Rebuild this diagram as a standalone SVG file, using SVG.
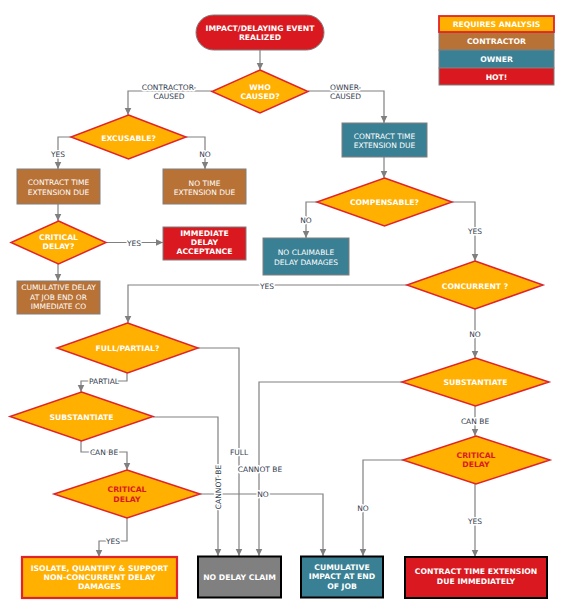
<svg xmlns="http://www.w3.org/2000/svg" width="570" height="609" viewBox="0 0 570 609">
<defs>
<marker id="arr" markerUnits="userSpaceOnUse" markerWidth="8" markerHeight="8" refX="7.5" refY="4" orient="auto">
<path d="M0,0.5 L7.5,4 L0,7.5 z" fill="#7f7f7f"/>
</marker>
<style>
.c{fill:none;stroke:#808080;stroke-width:1.2;marker-end:url(#arr)}
.dia{fill:#ffb000;stroke:#e0242a;stroke-width:1.5}
.or{fill:#ffb000;stroke:#e0242a;stroke-width:1.8}
.br{fill:#b87236;stroke:#7f7f7f;stroke-width:1}
.te{fill:#3a8094;stroke:#7f7f7f;stroke-width:1}
.rd{fill:#d9191f;stroke:#7f7f7f;stroke-width:1}
.blk{stroke:#000;stroke-width:2}
text{font-family:"DejaVu Sans",Verdana,sans-serif;text-anchor:middle}
.b{font-size:7.7px;font-weight:bold;fill:#fff}
.n{font-size:7.5px;fill:#fff}
.rt{font-size:7.7px;font-weight:bold;fill:#d9191f}
.l{font-size:7.5px;fill:#34404f;stroke:#fff;stroke-width:3;paint-order:stroke;stroke-linejoin:round}
</style>
</defs>
<rect width="570" height="609" fill="#fff"/>

<g id="connectors">
<path class="c" d="M260,50 V70"/>
<path class="c" d="M212,91 H128 V115"/>
<path class="c" d="M308,91 H384 V123"/>
<path class="c" d="M71,137 H58 V169"/>
<path class="c" d="M186,137 H205 V169"/>
<path class="c" d="M58,204 V221"/>
<path class="c" d="M106,242.5 H163"/>
<path class="c" d="M58,264 V281"/>
<path class="c" d="M384,157 V178"/>
<path class="c" d="M317,202 H306 V238"/>
<path class="c" d="M452,202 H475 V261"/>
<path class="c" d="M407,285 H128 V323"/>
<path class="c" d="M475,309 V358"/>
<path class="c" d="M198,348 H239 V556"/>
<path class="c" d="M127,373 V381 H81 V392"/>
<path class="c" d="M153,417 H218 V556"/>
<path class="c" d="M81,441 V452 H127 V470"/>
<path class="c" d="M200,494 H323 V556"/>
<path class="c" d="M127,518 V541 H99 V557"/>
<path class="c" d="M402,382 H259 V556"/>
<path class="c" d="M475,406 V436"/>
<path class="c" d="M403,460 H363 V556"/>
<path class="c" d="M475,484 V557"/>
<text class="l" x="169" y="90">CONTRACTOR-</text>
<text class="l" x="169" y="99">CAUSED</text>
<text class="l" x="330" y="90" style="text-anchor:start">OWNER-</text>
<text class="l" x="330" y="99" style="text-anchor:start">CAUSED</text>
<text class="l" x="58" y="157">YES</text>
<text class="l" x="205" y="157">NO</text>
<text class="l" x="134" y="245.5">YES</text>
<text class="l" x="306" y="222.5">NO</text>
<text class="l" x="475" y="234">YES</text>
<text class="l" x="267" y="288.5">YES</text>
<text class="l" x="475" y="337">NO</text>
<text class="l" x="104" y="383.5">PARTIAL</text>
<text class="l" x="239" y="455">FULL</text>
<text class="l" x="260" y="472">CANNOT BE</text>
<text class="l" x="104" y="455">CAN BE</text>
<text class="l" transform="translate(220.7,487) rotate(-90)" x="0" y="0">CANNOT BE</text>
<text class="l" x="263" y="497">NO</text>
<text class="l" x="113" y="544">YES</text>
<text class="l" x="475" y="424">CAN BE</text>
<text class="l" x="363" y="511">NO</text>
<text class="l" x="475" y="524">YES</text>
</g>

<g id="legend">
<rect class="br" x="439" y="32" width="115" height="18"/>
<rect class="te" x="439" y="50" width="115" height="18"/>
<rect class="rd" x="439" y="68" width="115" height="17"/>
<rect class="or" x="439" y="16" width="115" height="16"/>
<text class="b" x="496.5" y="27">REQUIRES ANALYSIS</text>
<text class="b" x="496.5" y="44">CONTRACTOR</text>
<text class="b" x="496.5" y="62">OWNER</text>
<text class="b" x="496.5" y="80">HOT!</text>
</g>

<g id="start">
<rect class="rd" x="196" y="15" width="128" height="35" rx="17.5"/>
<text class="b" x="260" y="31">IMPACT/DELAYING EVENT</text>
<text class="b" x="260" y="39.5">REALIZED</text>
</g>

<g id="who-caused">
<path class="dia" d="M260,70 L308,91.5 L260,113 L212,91.5 Z"/>
<text class="b" x="260" y="90">WHO</text>
<text class="b" x="260" y="99">CAUSED?</text>
</g>

<g id="excusable">
<path class="dia" d="M128.5,115 L186,137 L128.5,159 L71,137 Z"/>
<text class="b" x="128.5" y="141">EXCUSABLE?</text>
</g>

<g id="contractor-time-ext">
<rect class="br" x="17" y="169" width="83" height="35"/>
<text class="n" x="58.5" y="185">CONTRACT TIME</text>
<text class="n" x="58.5" y="194.5">EXTENSION DUE</text>
</g>

<g id="no-time-ext">
<rect class="br" x="163" y="169" width="83" height="35"/>
<text class="n" x="204.5" y="186">NO TIME</text>
<text class="n" x="204.5" y="195">EXTENSION DUE</text>
</g>

<g id="critical-delay-q">
<path class="dia" d="M58.5,221 L106,242.5 L58.5,264 L11,242.5 Z"/>
<text class="b" x="58.5" y="240">CRITICAL</text>
<text class="b" x="58.5" y="249.3">DELAY?</text>
</g>

<g id="immediate-acceptance">
<rect class="rd" x="163" y="227" width="83" height="33"/>
<text class="b" x="204.5" y="236">IMMEDIATE</text>
<text class="b" x="204.5" y="245">DELAY</text>
<text class="b" x="204.5" y="254">ACCEPTANCE</text>
</g>

<g id="cumulative-delay">
<rect class="br" x="17" y="281" width="83" height="33"/>
<text class="n" x="58.5" y="290">CUMULATIVE DELAY</text>
<text class="n" x="58.5" y="300">AT JOB END OR</text>
<text class="n" x="58.5" y="309">IMMEDIATE CO</text>
</g>

<g id="owner-time-ext">
<rect class="te" x="342" y="123" width="85" height="34"/>
<text class="n" x="384.5" y="138.5">CONTRACT TIME</text>
<text class="n" x="384.5" y="147.8">EXTENSION DUE</text>
</g>

<g id="compensable">
<path class="dia" d="M384.5,178 L452,202 L384.5,226 L317,202 Z"/>
<text class="b" x="384.5" y="205">COMPENSABLE?</text>
</g>

<g id="no-claimable">
<rect class="te" x="263" y="238" width="86" height="37"/>
<text class="n" x="306" y="254.7">NO CLAIMABLE</text>
<text class="n" x="306" y="265">DELAY DAMAGES</text>
</g>

<g id="concurrent">
<path class="dia" d="M475,261 L543,285 L475,309 L407,285 Z"/>
<text class="b" x="475" y="289">CONCURRENT ?</text>
</g>

<g id="full-partial">
<path class="dia" d="M127.5,323 L198,348 L127.5,373 L57,348 Z"/>
<text class="b" x="127.5" y="351">FULL/PARTIAL?</text>
</g>

<g id="substantiate-left">
<path class="dia" d="M81.5,392 L153,416.5 L81.5,441 L10,416.5 Z"/>
<text class="b" x="81.5" y="419.5">SUBSTANTIATE</text>
</g>

<g id="critical-delay-left">
<path class="dia" d="M127,470 L200,494 L127,518 L54,494 Z"/>
<text class="rt" x="127" y="492.3">CRITICAL</text>
<text class="rt" x="127" y="501.7">DELAY</text>
</g>

<g id="substantiate-right">
<path class="dia" d="M475.5,358 L549,382 L475.5,406 L402,382 Z"/>
<text class="b" x="475.5" y="385">SUBSTANTIATE</text>
</g>

<g id="critical-delay-right">
<path class="dia" d="M476,436 L550,460 L476,484 L403,460 Z"/>
<text class="rt" x="476" y="457.5">CRITICAL</text>
<text class="rt" x="476" y="467.3">DELAY</text>
</g>

<g id="isolate">
<rect class="or" x="22" y="557" width="155" height="41" style="stroke-width:2.2"/>
<text class="b" x="99.5" y="570.7">ISOLATE, QUANTIFY &amp; SUPPORT</text>
<text class="b" x="99.5" y="579.5">NON-CONCURRENT DELAY</text>
<text class="b" x="99.5" y="589.3">DAMAGES</text>
</g>

<g id="no-delay-claim">
<rect class="blk" fill="#808080" x="198" y="556.5" width="83" height="41"/>
<text class="b" x="239.5" y="580">NO DELAY CLAIM</text>
</g>

<g id="cumulative-impact">
<rect class="blk" fill="#3a8094" x="301" y="556.5" width="82" height="41"/>
<text class="b" x="342" y="569.5">CUMULATIVE</text>
<text class="b" x="342" y="579.3">IMPACT AT END</text>
<text class="b" x="342" y="588.5">OF JOB</text>
</g>

<g id="contract-time-immediately">
<rect class="blk" fill="#d9191f" x="405" y="557" width="142" height="41"/>
<text class="b" x="476" y="574">CONTRACT TIME EXTENSION</text>
<text class="b" x="476" y="584">DUE IMMEDIATELY</text>
</g>
</svg>
